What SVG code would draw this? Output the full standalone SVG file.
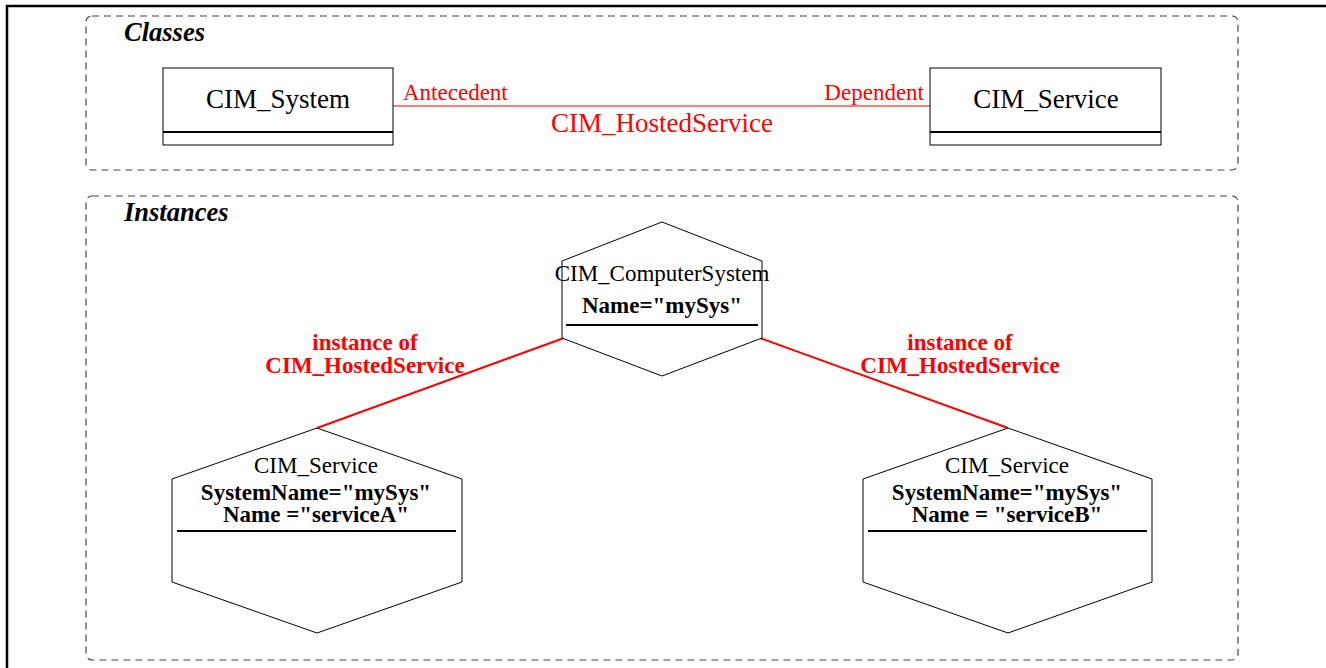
<svg xmlns="http://www.w3.org/2000/svg" width="1326" height="668" viewBox="0 0 1326 668">
<style>
.frame{fill:none;stroke:#000;stroke-width:2.5}
.group{fill:none;stroke:#444;stroke-width:1.2;stroke-dasharray:7,5}
.title{font-family:"Liberation Serif",serif;font-size:26.5px;font-weight:bold;font-style:italic;fill:#000}
.box{fill:#fff;stroke:#000;stroke-width:1}
.sep{stroke:#000;stroke-width:2}
.cls{font-family:"Liberation Serif",serif;font-size:27px;fill:#000;text-anchor:middle}
.hex{fill:#fff;stroke:#000;stroke-width:1}
.t{font-family:"Liberation Serif",serif;font-size:23px;fill:#000;text-anchor:middle}
.b{font-family:"Liberation Serif",serif;font-size:23px;font-weight:bold;fill:#000;text-anchor:middle}
.conn{stroke:#f00;fill:none}
.rl{font-family:"Liberation Serif",serif;font-size:23px;fill:#f00}
.rbig{font-family:"Liberation Serif",serif;font-size:27px;fill:#f00;text-anchor:middle}
.rb{font-family:"Liberation Serif",serif;font-size:23px;font-weight:bold;fill:#f00;text-anchor:middle}
</style>
<rect width="1326" height="668" fill="#fff"/>
<path class="frame" d="M7,668 V6 H1326"/>
<g id="classes-group">
<rect class="group" x="86" y="16" width="1152" height="154" rx="6"/>
<text class="title" x="124" y="41">Classes</text>
</g>
<g id="instances-group">
<rect class="group" x="86" y="196" width="1152" height="464" rx="6"/>
<text class="title" x="124" y="221">Instances</text>
</g>
<g id="connectors">
<line class="conn" x1="393" y1="106" x2="930" y2="106" stroke-width="1.2"/>
<text class="rl" x="403" y="100">Antecedent</text>
<text class="rl" x="924" y="100" text-anchor="end">Dependent</text>
<text class="rbig" x="662" y="132">CIM_HostedService</text>
<line class="conn" x1="564" y1="338" x2="317" y2="428" stroke-width="2"/>
<line class="conn" x1="760" y1="338" x2="1008" y2="428" stroke-width="2"/>
<text class="rb" x="365" y="350">instance of</text>
<text class="rb" x="365" y="373">CIM_HostedService</text>
<text class="rb" x="960" y="350">instance of</text>
<text class="rb" x="960" y="373">CIM_HostedService</text>
</g>
<g id="cim-system">
<rect class="box" x="163" y="68" width="230" height="77"/>
<line class="sep" x1="163" y1="132" x2="393" y2="132"/>
<text class="cls" x="278" y="108">CIM_System</text>
</g>
<g id="cim-service-class">
<rect class="box" x="930" y="68" width="231" height="77"/>
<line class="sep" x1="930" y1="132" x2="1161" y2="132"/>
<text class="cls" x="1046" y="108">CIM_Service</text>
</g>
<g id="computer-system">
<polygon class="hex" points="662,222 762,261 762,338 662,376 562,338 562,261"/>
<text class="t" x="662" y="281">CIM_ComputerSystem</text>
<text class="b" x="662" y="313">Name="mySys"</text>
<line class="sep" x1="566" y1="325" x2="758" y2="325"/>
</g>
<g id="service-a">
<polygon class="hex" points="317,428 462,479 462,582 317,633 172,582 172,479"/>
<text class="t" x="316" y="473">CIM_Service</text>
<text class="b" x="316" y="500">SystemName="mySys"</text>
<text class="b" x="316" y="522">Name ="serviceA"</text>
<line class="sep" x1="177" y1="531" x2="456" y2="531"/>
</g>
<g id="service-b">
<polygon class="hex" points="1008,428 1152,479 1152,582 1008,633 863,582 863,479"/>
<text class="t" x="1007" y="473">CIM_Service</text>
<text class="b" x="1007" y="500">SystemName="mySys"</text>
<text class="b" x="1007" y="522">Name = "serviceB"</text>
<line class="sep" x1="868" y1="531" x2="1147" y2="531"/>
</g>
</svg>
